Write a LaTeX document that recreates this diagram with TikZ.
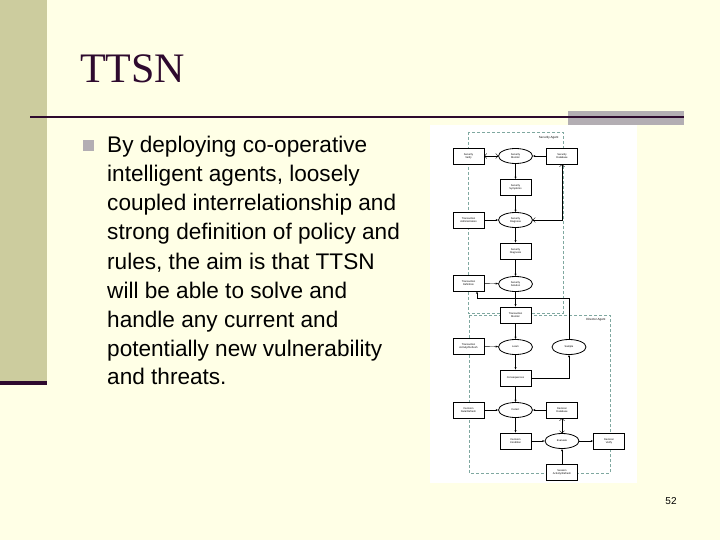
\documentclass[tikz,border=0pt]{standalone}
\usepackage{fontspec}
\setmainfont{Liberation Serif}
\setsansfont{Liberation Sans}
\usetikzlibrary{shapes.geometric,arrows.meta}
\definecolor{bgc}{HTML}{FFFFE6}
\definecolor{olive}{HTML}{CCCC9E}
\definecolor{dpur}{HTML}{2E0A2E}
\definecolor{grayb}{HTML}{B3AEB3}
\definecolor{dash}{HTML}{7FA8A0}
\begin{document}
\begin{tikzpicture}[x=1pt,y=-1pt,
  bx/.style={draw,thick,fill=white,minimum width=31pt,minimum height=16pt,inner sep=0pt,align=center,font=\sffamily\fontsize{2.6}{3}\selectfont},
  el/.style={draw,thick,ellipse,fill=white,minimum width=34pt,minimum height=15pt,inner sep=0pt,align=center,font=\sffamily\fontsize{2.6}{3}\selectfont},
  ar/.style={-{Stealth[length=2.5pt,width=2pt]},thin},
  agent/.style={draw=dash,densely dashed,thin},
  bl/.style={anchor=base west,inner sep=0pt,font=\sffamily\fontsize{22.6}{25}\selectfont}]
\useasboundingbox (0,0) rectangle (720,540);
\fill[bgc] (0,0) rectangle (720,540);
\fill[olive] (0,0) rectangle (47,382);
\fill[dpur] (0,381) rectangle (47,385);
\fill[grayb] (568,111) rectangle (684,125);
\draw[dpur,line width=2pt] (30,117) -- (684,117);
\node[anchor=base west,inner sep=0pt,text=dpur,font=\fontsize{42}{48}\selectfont] (title) at (80,83) {TTSN};
\fill[grayb] (83,140) rectangle (94,151);
\node[bl] (l1) at (107,153) {By deploying co-operative};
\node[bl] (l2) at (107,182) {intelligent agents, loosely};
\node[bl] (l3) at (107,211) {coupled interrelationship and};
\node[bl] (l4) at (107,240) {strong definition of policy and};
\node[bl] (l5) at (107,269) {rules, the aim is that TTSN};
\node[bl] (l6) at (107,298) {will be able to solve and};
\node[bl] (l7) at (107,327) {handle any current and};
\node[bl] (l8) at (107,356) {potentially new vulnerability};
\node[bl] (l9) at (107,384) {and threats.};
\node[font=\sffamily\fontsize{10}{12}\selectfont] (pg) at (671,501) {52};
% diagram
\fill[white] (430,125) rectangle (637,483);
\draw[agent] (468,132) rectangle (563,313);
\draw[agent] (469,315) rectangle (610,473);
\node[anchor=north east,font=\sffamily\fontsize{3}{3.5}\selectfont] (sa) at (562,133) {Security Agent};
\node[anchor=north east,font=\sffamily\fontsize{3}{3.5}\selectfont] (da) at (609,315) {Director Agent};
\node[bx] (sv) at (468.5,156) {Security\\Verify};
\node[el] (sm) at (515.5,156) {Security\\Monitor};
\node[bx] (sd) at (562,156) {Security\\Database};
\node[bx] (ss) at (515.5,187.5) {Security\\Symptoms};
\node[bx] (ta) at (468.5,220) {Transaction\\Administration};
\node[el] (sdg) at (515.5,220) {Security\\Diagnose};
\node[bx] (sds) at (515.5,251) {Security\\Diagnosis};
\node[bx] (td) at (468.5,283) {Transaction\\Definition};
\node[el] (sso) at (515.5,284) {Security\\Solution};
\node[bx] (tm) at (515.5,315) {Transaction\\Monitor};
\node[bx] (tar) at (468.5,346) {Transaction\\Activity/Refresh};
\node[el] (le) at (515.5,347) {Learn};
\node[el] (sp) at (569,347) {Sample};
\node[bx] (co) at (515.5,378) {Consequences};
\node[bx] (ddr) at (468.5,410) {Decision\\Data/Refresh};
\node[el] (de) at (515.5,410) {Detect};
\node[bx] (ddb) at (562,410) {Decision\\Database};
\node[bx] (dc) at (515.5,441) {Decision\\Condition};
\node[el] (ev) at (562,441) {Evaluate};
\node[bx] (dv) at (609,441) {Decision\\Verify};
\node[bx] (sar) at (562,472) {Session\\Activity/Refresh};
\draw[ar,<->] (sv) -- (sm);
\draw[ar] (sd) -- (sm);
\draw[ar] (sm) -- (ss);
\draw[ar] (ss) -- (sdg);
\draw[ar,<->] (sdg.east) -| (sd.south);
\draw[ar] (ta) -- (sdg);
\draw[ar] (sdg) -- (sds);
\draw[ar] (sds) -- (sso);
\draw[ar] (td) -- (sso);
\draw[ar] (sso) -- (tm);
\coordinate (c1) at (569,298);
\coordinate (c2) at (477,298);
\draw[ar] (sp.north) -- (c1) -- (c2) -- (td.south -| c2);
\draw[ar] (tm) -- (le);
\draw[ar] (tar) -- (le);
\draw[ar] (le) -- (co);
\draw[ar] (co.east) -| (sp.south);
\draw[ar] (co) -- (de);
\draw[ar] (ddr) -- (de);
\draw[ar] (ddb) -- (de);
\draw[ar] (de) -- (dc);
\draw[ar] (dc) -- (ev);
\draw[ar,<->] (ev) -- (ddb);
\draw[ar] (ev) -- (dv);
\draw[ar] (sar) -- (ev);
\end{tikzpicture}
\end{document}
